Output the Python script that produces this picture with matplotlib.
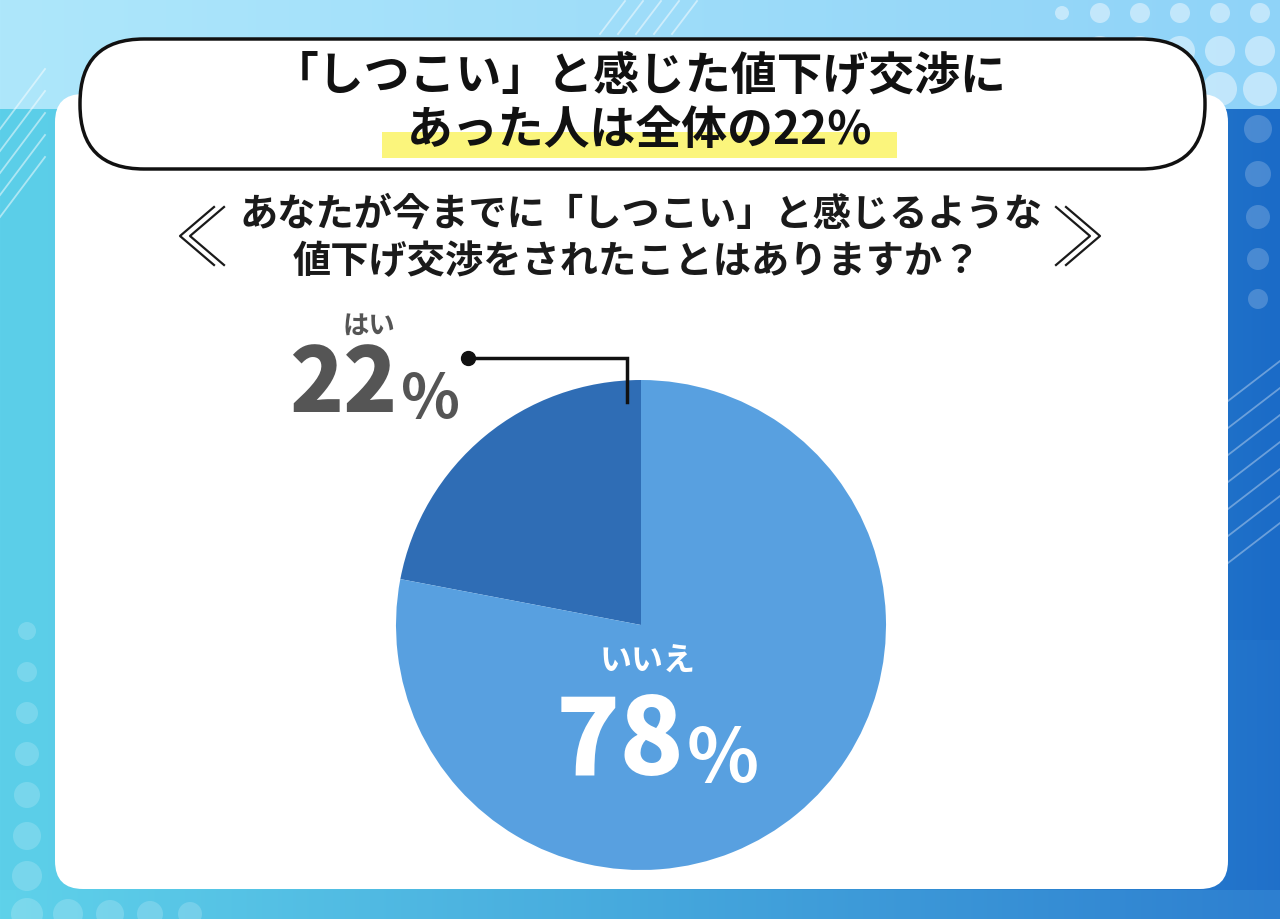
import numpy as np
import matplotlib
matplotlib.use("Agg")
import matplotlib.pyplot as plt
from matplotlib.patches import FancyBboxPatch, Circle
from matplotlib.colors import to_rgb

plt.rcParams['font.family'] = ['Noto Sans CJK JP', 'DejaVu Sans']

# data
labels = ['はい', 'いいえ']
values = [22, 78]
slice_colors = ['#2f6db5', '#58a0e0']
title_lines = ['「しつこい」と感じた値下げ交渉に', 'あった人は全体の22%']
question_lines = ['あなたが今までに「しつこい」と感じるような', '値下げ交渉をされたことはありますか？']

W, H = 1280, 920
fig = plt.figure(figsize=(W / 100, H / 100), dpi=100)

# background gradient
bg = fig.add_axes([0, 0, 1, 1])
bg.set_xlim(0, W)
bg.set_ylim(H, 0)
bg.axis('off')

xs = np.linspace(0, 1, W)[None, :, None]
ys = np.arange(H)[:, None, None]
c_left = np.array(to_rgb('#5ccfe9'))
c_right = np.array(to_rgb('#1b6bc7'))
mid = c_left + (c_right - c_left) * xs ** 1.4
top = np.array(to_rgb('#aee7fb')) + (np.array(to_rgb('#8fd3f8')) - np.array(to_rgb('#aee7fb'))) * xs
bot = np.array(to_rgb('#5fd2ea')) + (np.array(to_rgb('#2d7fd0')) - np.array(to_rgb('#5fd2ea'))) * xs
img = np.where(ys < 110, top, mid)
lower = (ys > 640) & (xs > 0.5)
img = np.where(lower, img * 0.85 + np.array(to_rgb('#3a8cd8')) * 0.15, img)
img = np.where(ys > 890, bot, img)
bg.imshow(np.clip(img, 0, 1), extent=[0, W, H, 0], aspect='auto', zorder=0)

# decorative circles
for i, y in enumerate([632, 673, 714, 755, 796, 837, 877]):
    bg.add_patch(Circle((27, y), 9 + i, color='white', alpha=0.18, lw=0, zorder=1))
for i, x in enumerate([27, 68, 110, 150, 190]):
    bg.add_patch(Circle((x, 915), 16 - i, color='white', alpha=0.18, lw=0, zorder=1))
for y, r in [(14, 10), (52, 15), (90, 17)]:
    for x in [1100, 1140, 1180, 1220, 1260]:
        bg.add_patch(Circle((x, y), r, color='white', alpha=0.45, lw=0, zorder=1))
bg.add_patch(Circle((1062, 14), 7, color='white', alpha=0.45, lw=0, zorder=1))
for i, y in enumerate([130, 175, 218, 260, 300]):
    bg.add_patch(Circle((1258, y), 14 - i, color='white', alpha=0.2, lw=0, zorder=1))

# decorative diagonal lines
for k in range(5):
    bg.plot([0, 45], [130 + k * 22, 70 + k * 22], color='white', alpha=0.5, lw=1.3, zorder=1)
for k in range(5):
    bg.plot([600 + k * 18, 625 + k * 18], [35, 2], color='white', alpha=0.5, lw=1.3, zorder=1)
for k in range(7):
    bg.plot([1228, 1280], [402 + k * 27, 362 + k * 27], color='white', alpha=0.35, lw=1.3, zorder=1)

# white card
bg.add_patch(FancyBboxPatch((55, 95), 1173, 795, boxstyle='round,pad=0,rounding_size=28',
                            facecolor='white', edgecolor='none', zorder=2))

# title box
bg.add_patch(FancyBboxPatch((80, 40), 1125, 130, boxstyle='round,pad=0,rounding_size=64',
                            facecolor='white', edgecolor='#111111', lw=2.5, zorder=3))
bg.add_patch(FancyBboxPatch((382, 133), 515, 26, boxstyle='square,pad=0',
                            facecolor='#fbf57c', edgecolor='none', zorder=4))
bg.text(640, 76, title_lines[0], fontsize=33, fontweight='bold', ha='center', va='center',
        color='#111111', zorder=5)
bg.text(640, 131, title_lines[1], fontsize=33, fontweight='bold', ha='center', va='center',
        color='#111111', zorder=5)

# question
bg.text(641, 214, question_lines[0], fontsize=27.5, fontweight='bold', ha='center', va='center',
        color='#1a1a1a', zorder=5)
bg.text(637, 262, question_lines[1], fontsize=27.5, fontweight='bold', ha='center', va='center',
        color='#1a1a1a', zorder=5)
for off in [0, 10]:
    bg.plot([214 + off, 180 + off, 214 + off], [208, 237, 266], color='#1a1a1a', lw=1.6, zorder=5)
    bg.plot([1066 - off, 1100 - off, 1066 - off], [208, 237, 266], color='#1a1a1a', lw=1.6, zorder=5)

# pie
cx, cy, r = 641, 626, 245
pax = fig.add_axes([(cx - r) / W, (H - cy - r) / H, 2 * r / W, 2 * r / H])
pax.pie(values, colors=slice_colors, startangle=90, counterclock=True,
        wedgeprops={'linewidth': 0})
pax.set_xlim(-1, 1)
pax.set_ylim(-1, 1)
pax.axis('off')

# overlay for labels
ov = fig.add_axes([0, 0, 1, 1])
ov.set_xlim(0, W)
ov.set_ylim(H, 0)
ov.axis('off')
ov.patch.set_alpha(0)

ov.plot([468, 627, 627], [359, 359, 403], color='#111111', lw=2.5, solid_joinstyle='miter')
ov.plot([468], [359], 'o', color='#111111', markersize=10)

ov.text(369, 326, labels[0], fontsize=19, fontweight='bold', ha='center', va='center', color='#555555')
ov.text(397, 412, str(values[0]), fontsize=64, fontweight='heavy', ha='right', va='baseline',
        color='#555555')
ov.text(401, 418, '%', fontsize=44, fontweight='bold', ha='left', va='baseline', color='#555555')

ov.text(648, 662, labels[1], fontsize=23, fontweight='bold', ha='center', va='center', color='white')
ov.text(684, 775, str(values[1]), fontsize=76, fontweight='heavy', ha='right', va='baseline',
        color='white')
ov.text(687, 782, '%', fontsize=54, fontweight='bold', ha='left', va='baseline', color='white')

fig.savefig('out.png', dpi=100)
